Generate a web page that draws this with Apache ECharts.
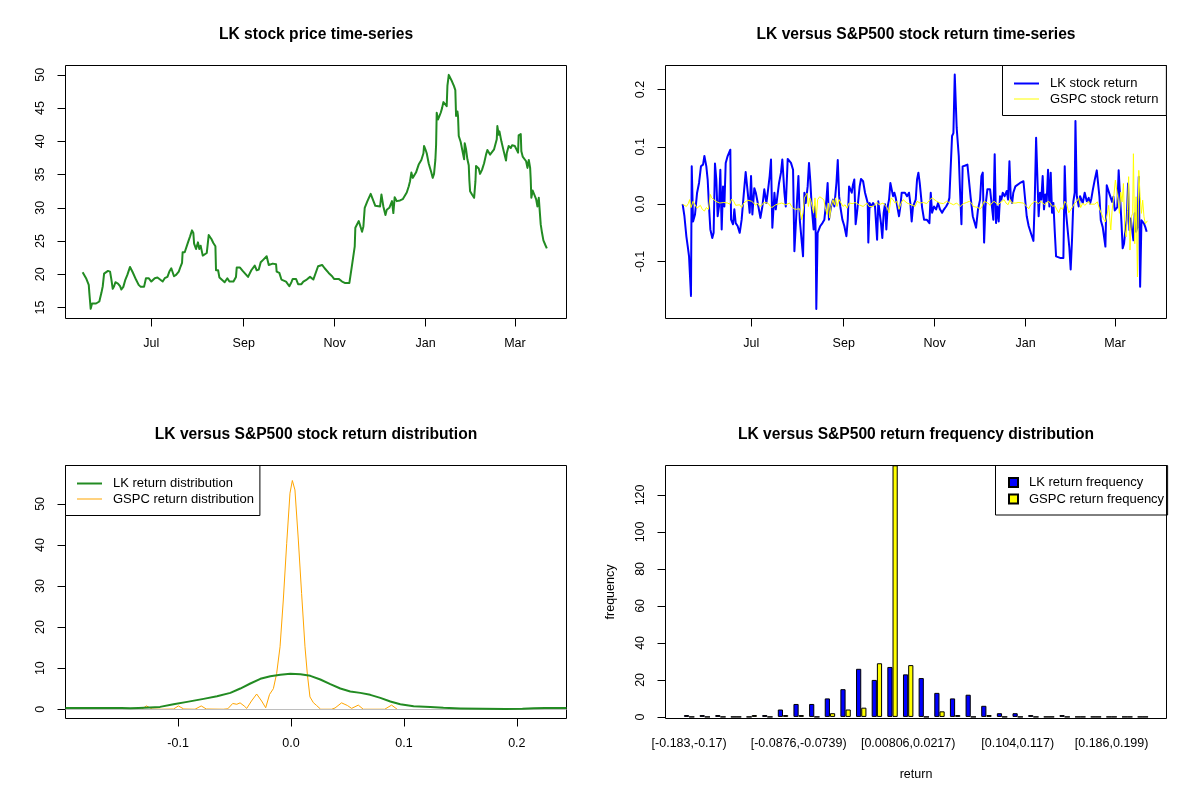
<!DOCTYPE html>
<html>
<head>
<meta charset="utf-8">
<title>LK versus S&amp;P500</title>
<script src="https://cdn.jsdelivr.net/npm/echarts@6/dist/echarts.min.js"></script>
<style>
  html, body { margin: 0; padding: 0; background: #fff; }
  #chart { width: 1200px; height: 800px; }
</style>
</head>
<body>
<div id="chart"></div>
<script>
// x positions of the time-series are calendar days counted from the listing day, 17 May 2019
const monthTicks = ['2019-07-01', '2019-09-01', '2019-11-01', '2020-01-01', '2020-03-01'];
const monthLabels = ['Jul', 'Sep', 'Nov', 'Jan', 'Mar'];

// LK closing price
const priceDay = [-1.1, 1.2, 3.0, 3.4, 4.3, 5.2, 6.1, 7.9, 10.1, 11.0, 11.5, 12.4, 13.3, 14.6, 15.9, 17.3, 18.2, 19.1, 20.0, 20.9,
  22.6, 24.0, 24.9, 26.2, 27.1, 27.6, 28.9, 30.7, 32.5, 34.7, 36.5, 37.9, 40.1, 41.0, 41.4, 43.2, 45.0, 45.9, 47.3, 49.1,
  50.4, 52.6, 54.0, 55.8, 57.1, 58.4, 59.3, 60.2, 61.6, 63.4, 64.7, 65.6, 66.0, 67.4, 68.3, 69.6, 71.0, 72.3, 73.2, 73.7,
  75.0, 76.3, 77.2, 78.1, 79.5, 80.8, 82.2, 83.5, 85.3, 86.6, 88.0, 88.4, 89.8, 90.7, 92.0, 94.2, 96.0, 97.4, 100.1, 101.8,
  102.3, 104.5, 106.3, 109.9, 112.1, 114.4, 115.7, 117.1, 118.4, 120.2, 122.4, 123.3, 123.8, 125.1, 126.5, 128.7, 129.1, 130.9, 132.3, 133.2,
  135.4, 136.7, 137.6, 139.0, 139.9, 142.1, 143.0, 143.5, 145.7, 147.0, 149.3, 151.5, 153.7, 156.9, 159.6, 161.3, 164.0, 166.3, 167.6, 170.7,
  173.0, 174.8, 177.9, 179.2, 179.7, 181.0, 181.5, 181.9, 184.2, 185.5, 186.4, 187.3, 188.2, 190.0, 192.2, 193.1, 195.3, 198.5, 199.4, 200.7,
  202.1, 203.0, 204.7, 206.5, 207.4, 208.3, 209.7, 211.9, 213.7, 216.4, 217.7, 218.6, 219.5, 220.4, 222.6, 224.4, 226.2, 227.6, 228.0, 228.9,
  229.8, 231.1, 232.0, 232.9, 233.8, 234.7, 235.6, 236.1, 236.5, 237.4, 238.3, 239.2, 240.1, 241.0, 242.3, 243.2, 243.7, 244.6, 245.5, 246.8,
  248.1, 249.0, 249.5, 250.4, 250.8, 251.3, 252.6, 254.0, 254.9, 255.3, 256.2, 257.1, 258.0, 258.4, 258.9, 260.2, 261.6, 262.5, 262.9, 263.8,
  264.7, 265.6, 266.9, 268.3, 269.6, 270.5, 272.3, 273.2, 275.0, 276.8, 277.2, 278.1, 278.6, 279.9, 281.7, 283.0, 283.5, 284.8, 286.2, 287.1,
  288.9, 289.8, 291.1, 291.5, 292.9, 293.3, 294.2, 295.1, 296.5, 297.4, 298.3, 299.2, 299.6, 300.0, 300.9, 301.8, 303.2, 304.1, 305.0, 305.9,
  306.3, 307.2, 308.1, 309.4, 310.4];
const priceValue = [20.3, 19.4, 18.4, 17.2, 14.8, 15.6, 15.3, 15.6, 15.9, 16.2, 17.2, 18.2, 20.1, 20.2, 20.5, 20.4, 19.2, 17.8, 18.2, 18.8,
  18.6, 18.2, 17.7, 18.1, 18.2, 19.2, 19.9, 21.1, 20.3, 19.2, 18.4, 18.1, 18.1, 18.4, 19.4, 19.4, 18.9, 19.2, 19.4, 19.5,
  19.2, 18.9, 19.4, 19.6, 20.4, 20.9, 20.3, 19.7, 19.9, 20.4, 21.2, 21.7, 23.3, 23.3, 23.1, 24.8, 25.7, 26.6, 26.2, 24.6,
  23.8, 24.8, 23.8, 24.3, 22.8, 22.8, 23.2, 25.9, 25.3, 24.7, 24.2, 20.6, 20.6, 19.5, 19.2, 18.8, 19.4, 18.9, 18.9, 19.6,
  21.0, 21.0, 20.5, 19.6, 20.6, 21.3, 20.6, 20.7, 21.8, 22.2, 22.7, 22.7, 21.4, 21.4, 21.6, 21.5, 20.4, 20.2, 19.2, 18.9,
  18.9, 18.8, 18.2, 18.8, 19.3, 19.3, 19.2, 18.5, 18.5, 18.9, 19.2, 19.6, 19.2, 21.2, 21.4, 20.9, 20.2, 19.7, 19.3, 19.3,
  18.9, 18.7, 18.7, 18.9, 21.4, 21.6, 24.2, 27.0, 28.0, 27.7, 26.4, 27.2, 30.0, 31.0, 32.1, 32.0, 30.3, 30.2, 32.0, 30.2,
  28.9, 29.7, 30.0, 31.0, 29.2, 31.6, 31.0, 31.1, 31.3, 32.3, 33.2, 34.0, 35.3, 34.5, 35.3, 36.5, 37.2, 38.2, 39.3, 38.8,
  38.2, 36.7, 36.0, 35.3, 34.5, 35.1, 37.2, 39.5, 44.3, 43.3, 43.8, 44.3, 45.0, 45.9, 46.0, 45.3, 48.4, 50.0, 49.8, 49.0,
  48.3, 47.7, 43.8, 44.5, 43.8, 40.8, 39.9, 38.3, 37.3, 39.7, 38.8, 37.3, 36.4, 34.2, 32.5, 32.0, 31.5, 34.0, 36.3, 36.3,
  35.9, 35.1, 35.7, 36.7, 38.0, 38.7, 38.0, 38.0, 38.8, 40.3, 42.3, 41.0, 41.5, 40.0, 38.3, 37.1, 38.2, 39.3, 39.0, 39.4,
  39.3, 39.0, 38.3, 40.9, 41.1, 38.5, 37.7, 37.6, 37.0, 36.0, 37.2, 36.0, 34.2, 31.5, 32.6, 32.5, 31.3, 30.2, 31.5, 31.6,
  27.5, 26.2, 25.1, 24.4, 23.9];

// LK daily return
const lkRetDay = [-1.1, 0.1, 1.4, 2.3, 3.2, 4.5, 5.0, 5.9, 7.2, 8.6, 9.9, 11.2, 12.6, 13.5, 14.8, 15.7, 16.6, 17.5, 18.8, 19.7,
  20.6, 21.5, 22.4, 23.3, 24.2, 25.1, 26.0, 26.9, 27.8, 29.1, 30.9, 31.4, 32.7, 33.6, 34.5, 35.8, 37.2, 38.5, 39.9, 41.2,
  42.6, 43.9, 44.8, 45.7, 47.0, 48.0, 49.3, 51.1, 52.4, 53.7, 55.1, 56.0, 57.3, 58.2, 59.1, 60.5, 61.4, 62.2, 63.6, 64.9,
  65.8, 67.2, 68.1, 69.4, 70.3, 71.6, 73.0, 73.9, 74.8, 75.7, 76.6, 77.5, 78.8, 79.7, 80.6, 81.5, 82.8, 83.7, 84.6, 85.5,
  86.8, 87.7, 88.2, 88.6, 89.5, 90.4, 91.3, 92.7, 94.0, 95.4, 96.2, 97.1, 98.5, 99.8, 100.7, 102.1, 103.0, 103.9, 104.7, 106.1,
  107.4, 108.8, 109.7, 110.6, 111.5, 112.4, 113.2, 114.1, 115.0, 115.9, 116.8, 117.7, 118.6, 120.0, 121.3, 122.2, 123.1, 123.5, 124.4, 125.3,
  126.7, 128.0, 129.4, 130.2, 131.1, 132.0, 132.9, 133.8, 134.7, 135.6, 136.5, 137.4, 138.3, 139.2, 140.1, 141.0, 141.9, 143.2, 144.1, 145.0,
  145.9, 146.8, 148.1, 149.5, 150.8, 151.7, 152.6, 153.5, 154.4, 155.3, 156.2, 157.1, 158.0, 159.6, 160.9, 162.7, 164.5, 165.4, 166.3, 167.6,
  169.0, 170.3, 171.6, 173.0, 174.3, 175.7, 177.0, 177.9, 179.2, 179.7, 180.6, 181.5, 182.4, 182.8, 184.2, 185.1, 186.0, 186.8, 188.2, 190.0,
  191.3, 192.2, 193.6, 194.9, 195.8, 197.1, 198.5, 199.4, 200.3, 201.2, 202.1, 203.4, 205.2, 206.5, 207.4, 208.3, 209.2, 210.1, 211.0, 211.9,
  212.8, 213.7, 215.0, 216.4, 217.3, 218.2, 219.1, 220.0, 220.8, 222.2, 223.5, 225.3, 227.6, 228.9, 229.8, 231.1, 232.9, 234.3, 235.2, 236.1,
  237.0, 237.8, 238.7, 239.6, 240.5, 241.4, 242.3, 243.2, 244.1, 245.0, 245.9, 246.8, 247.7, 248.6, 249.5, 250.8, 252.6, 254.4, 255.3, 256.2,
  257.5, 258.4, 259.3, 260.2, 261.1, 262.0, 262.5, 263.4, 264.7, 265.6, 266.5, 267.4, 268.7, 270.1, 271.4, 272.3, 273.2, 274.1, 275.4, 276.8,
  277.7, 278.6, 279.5, 280.8, 281.7, 282.6, 283.5, 284.4, 285.3, 286.2, 287.1, 288.0, 288.9, 289.7, 290.6, 291.5, 292.4, 293.3, 294.2, 295.1,
  296.0, 296.9, 297.8, 298.7, 299.6, 300.5, 301.4, 302.3, 303.2, 304.1, 305.0, 305.9, 306.8, 307.6, 308.5, 309.4, 310.3];
const lkRet = [0, -0.021, -0.056, -0.073, -0.091, -0.16, 0.066, -0.03, -0.018, 0.02, 0.037, 0.066, 0.069, 0.084, 0.066, 0.043, -0.004, -0.044, -0.059, -0.05,
  0.071, 0.043, -0.021, -0.004, 0.06, -0.044, 0.031, -0.004, 0.072, 0.084, 0.095, -0.027, -0.035, -0.009, -0.033, -0.038, -0.05, -0.027, 0.017, 0.056,
  0.02, -0.015, 0.049, -0.018, 0.028, 0.02, 0.002, -0.024, -0.004, 0.026, 0.002, 0.02, 0.049, 0.078, -0.041, 0.02, -0.009, 0.008, 0.037, 0.055,
  0.078, 0.02, -0.004, 0.079, 0.078, 0.072, 0.06, -0.082, -0.038, 0.008, 0.049, -0.027, -0.024, -0.091, 0.02, 0.002, 0.031, 0.072, 0.04, -0.004,
  -0.044, -0.004, -0.053, -0.183, -0.05, -0.05, -0.038, -0.033, -0.027, 0.008, 0.037, -0.027, -0.004, 0.008, -0.004, 0.037, 0.077, 0.014, -0.004, -0.027,
  -0.038, -0.056, -0.027, 0.031, 0.028, 0.02, 0.034, 0.043, -0.035, -0.015, 0.008, 0.031, 0.044, 0.04, 0.02, 0.011, 0.002, -0.067, 0.002, -0.004,
  0.002, -0.004, -0.062, 0.005, -0.015, -0.033, -0.059, -0.015, 0, -0.044, -0.004, 0.008, 0.037, 0.034, 0.014, 0.02, 0.011, 0.008, -0.021, -0.004,
  0.02, 0.023, 0.02, 0.014, 0.02, 0.002, -0.03, -0.004, 0.002, 0.008, 0.043, 0.055, 0.037, -0.006, -0.027, -0.027, -0.033, 0.02, -0.015, -0.004,
  -0.009, 0.002, -0.009, -0.015, -0.009, -0.004, 0.002, 0.011, 0.008, 0.119, 0.124, 0.226, 0.223, 0.133, 0.084, 0.02, -0.035, 0.066, 0.067, 0.069,
  0.067, 0.011, -0.021, -0.033, -0.041, -0.009, 0.008, 0.049, 0.055, -0.067, -0.004, 0.026, 0.026, 0.023, -0.027, 0.087, -0.033, -0.004, -0.03, 0.014,
  0.008, 0.02, 0.014, 0.023, 0.008, 0.075, 0.011, 0.002, 0.02, 0.031, 0.034, 0.037, 0.04, 0.038, -0.021, -0.038, -0.053, -0.064, 0.008, 0.116,
  0.113, -0.021, 0.02, 0.008, 0.049, -0.009, 0.017, 0.005, 0.06, -0.004, 0.055, -0.015, 0.002, -0.047, -0.091, -0.09, -0.094, -0.094, 0.066, -0.015,
  -0.012, -0.076, -0.114, -0.062, 0.005, 0.02, 0.145, 0.014, -0.004, 0.014, 0.008, 0.002, 0.02, 0.005, 0.011, 0.001, 0.01, 0.024, 0.042, 0.059,
  0.056, 0.013, -0.028, -0.04, -0.057, -0.074, 0.033, 0.03, 0.018, 0.016, 0.004, 0.013, -0.011, -0.013, -0.005, 0.059, 0.056, -0.028, -0.077, -0.069,
  -0.045, -0.028, 0.036, -0.045, -0.025, -0.045, -0.063, -0.016, -0.048, -0.04, 0.048, -0.144, -0.028, -0.025, -0.034, -0.04, -0.048];

// GSPC (S&P500) daily return
const spRetDay = [-1.1, 0.1, 1.4, 2.7, 3.6, 4.5, 5.9, 7.2, 8.6, 9.5, 10.8, 12.1, 13.5, 14.8, 16.2, 17.5, 18.4, 19.7, 21.1, 22.4,
  23.8, 25.1, 26.5, 27.8, 29.1, 30.5, 31.8, 33.2, 34.5, 35.8, 37.2, 38.5, 39.9, 41.2, 42.6, 43.9, 45.2, 46.6, 48.0, 49.3,
  50.6, 52.0, 53.3, 54.6, 56.0, 57.3, 58.7, 60.0, 61.4, 62.7, 64.0, 65.4, 66.7, 68.1, 69.4, 70.7, 72.1, 73.4, 74.8, 76.1,
  77.4, 78.8, 79.7, 80.6, 81.5, 82.4, 83.3, 84.2, 85.1, 86.0, 86.8, 87.7, 88.6, 89.5, 90.9, 92.2, 93.6, 94.9, 95.8, 96.7,
  97.6, 98.5, 99.8, 100.7, 101.6, 102.5, 103.9, 105.2, 106.5, 107.9, 109.2, 110.6, 111.9, 113.2, 114.6, 115.9, 117.3, 118.6, 120.0, 121.3,
  122.6, 124.0, 125.3, 126.7, 128.0, 129.4, 130.7, 132.0, 133.4, 134.7, 136.1, 137.4, 138.7, 140.1, 141.4, 142.8, 144.1, 145.5, 146.8, 148.1,
  149.5, 150.8, 152.2, 153.5, 154.9, 156.2, 157.5, 158.2, 160.4, 162.7, 164.9, 166.3, 167.6, 169.4, 171.6, 173.9, 176.1, 178.3, 180.6, 182.8,
  185.1, 187.3, 189.5, 191.3, 192.7, 194.0, 195.3, 197.1, 198.5, 199.8, 201.2, 202.5, 203.8, 205.2, 206.5, 207.9, 209.2, 210.6, 211.9, 213.2,
  214.6, 215.9, 217.3, 218.6, 220.0, 221.3, 222.6, 224.0, 225.3, 227.6, 228.9, 229.8, 231.1, 232.5, 233.8, 235.2, 236.5, 237.8, 239.2, 240.5,
  241.9, 243.2, 244.6, 245.9, 247.2, 248.6, 249.9, 251.3, 252.6, 254.0, 255.3, 256.6, 258.0, 259.3, 260.7, 262.0, 263.4, 264.7, 266.0, 267.4,
  268.7, 270.1, 271.4, 272.3, 273.6, 275.4, 277.2, 278.6, 279.9, 281.2, 282.6, 283.9, 284.8, 286.2, 287.1, 288.4, 289.3, 290.2, 291.1, 292.0,
  292.9, 293.8, 294.7, 295.6, 296.5, 297.4, 298.2, 299.1, 300.0, 300.9, 301.4, 302.3, 303.2, 304.1, 305.0, 305.9, 306.8, 307.6, 308.5, 309.4,
  310.8];
const spRet = [0, -0.003, -0.004, 0.001, 0.008, -0.006, 0.005, 0.002, -0.007, -0.004, -0.002, -0.009, -0.012, -0.006, -0.009, 0.017, 0.011, 0.008, 0.005, 0.008,
  0.002, 0.001, 0.003, 0.001, 0.002, 0, 0.009, 0.005, -0.002, -0.004, -0.001, -0.006, 0.002, 0.005, 0.007, 0.005, 0.005, 0.002, -0.002, 0.002,
  -0.004, -0.002, 0.003, 0.005, 0.002, -0.001, -0.006, -0.004, -0.001, -0.004, 0.001, 0.002, 0.005, -0.001, 0.001, 0.002, -0.004, -0.008, -0.009, -0.009,
  -0.008, -0.027, -0.015, 0.011, 0.008, 0.019, -0.004, 0.011, 0.005, -0.006, -0.015, 0.011, -0.024, 0.008, 0.013, 0.011, 0.008, -0.009, -0.018, 0.002,
  -0.024, -0.004, 0.008, -0.001, 0.011, -0.004, 0.008, 0.002, -0.004, -0.001, -0.007, 0.002, 0.005, 0.001, 0.003, 0.002, -0.001, -0.002, -0.004, -0.001,
  0.002, -0.004, -0.001, -0.004, -0.002, 0.003, -0.001, -0.004, 0.002, -0.002, -0.006, -0.015, 0.011, 0.008, 0.002, 0.005, -0.009, 0.002, 0.008, 0.009,
  0.002, 0.005, -0.001, 0.002, -0.004, 0.005, 0.002, 0.002, 0.003, 0.001, 0.008, 0.011, 0.009, 0.005, 0.002, 0.001, 0.005, 0.002, -0.001, 0.002,
  -0.004, 0.001, 0.003, 0.005, 0.002, -0.004, -0.001, -0.006, -0.009, -0.004, 0.005, 0.008, 0.002, -0.002, 0.002, 0.005, 0.003, -0.001, 0.002, 0.005,
  0.008, 0.002, -0.001, 0.008, 0.002, 0.001, 0.002, 0.003, 0.001, 0.002, 0.005, -0.004, -0.008, -0.001, 0.002, 0.005, 0.002, 0.001, 0.005, 0.002,
  -0.001, 0.003, 0.005, 0.002, -0.004, -0.002, -0.009, -0.015, -0.006, -0.009, 0.005, 0.001, -0.015, -0.018, -0.004, 0.002, 0.005, 0.011, -0.006, 0.002,
  -0.002, 0.001, 0.005, 0, 0.002, 0, 0.004, -0.008, -0.016, -0.025, -0.031, -0.016, -0.002, -0.045, -0.011, 0.018, 0.042, 0.045, 0.007, -0.016,
  0.021, 0.004, 0.036, -0.045, -0.057, -0.011, 0.048, -0.08, -0.022, -0.016, 0.088, -0.069, 0.013, -0.127, 0.059, 0.013, -0.016, 0.007, -0.022, -0.034,
  -0.029];

// kernel density of the returns
const lkDensX = [-0.1997, -0.17, -0.15, -0.1425, -0.135, -0.125, -0.116, -0.104, -0.092, -0.0774, -0.0655, -0.0537, -0.0449, -0.036, -0.0271, -0.0183, -0.0094, -0.0006, 0.0083, 0.0171,
  0.026, 0.0348, 0.0437, 0.0525, 0.0614, 0.0702, 0.0791, 0.088, 0.0968, 0.1086, 0.1233, 0.135, 0.15, 0.17, 0.19, 0.205, 0.215, 0.225, 0.244];
const lkDensY = [0.3, 0.3, 0.28, 0.25, 0.3, 0.42, 0.57, 1.22, 1.79, 2.52, 3.17, 3.98, 5.04, 6.26, 7.4, 8.05, 8.37, 8.62, 8.54, 8.13,
  7.24, 6.1, 5.04, 4.31, 3.98, 3.5, 2.76, 1.87, 1.22, 0.73, 0.57, 0.35, 0.2, 0.1, 0.08, 0.1, 0.25, 0.3, 0.3];
const spDensX = [-0.135, -0.132, -0.128, -0.123, -0.115, -0.104, -0.0997, -0.095, -0.085, -0.0835, -0.0795, -0.075, -0.06, -0.056, -0.0516, -0.048, -0.0451, -0.0415, -0.0392, -0.035,
  -0.0304, -0.026, -0.0224, -0.019, -0.0156, -0.0127, -0.0097, -0.0068, -0.0038, -0.0009, 0.0012, 0.0035, 0.0065, 0.0094, 0.0124, 0.0145, 0.0168, 0.0198, 0.0227, 0.0263,
  0.036, 0.039, 0.0448, 0.05, 0.0537, 0.0596, 0.064, 0.083, 0.0891, 0.094];
const spDensY = [0, 0.05, 0.8, 0.05, 0, 0.05, 0.8, 0.05, 0, 0.05, 0.8, 0.05, 0, 0.1, 1.4, 1.2, 1.55, 0.8, 0.2, 2.0,
  3.7, 2.0, 0.35, 3.6, 5.0, 8.7, 15.2, 26.6, 40.4, 52.6, 55.7, 53.4, 41.2, 28.2, 15.2, 8.5, 3.0, 1.6, 0.9, 0,
  0, 0.3, 1.55, 0.9, 0.2, 1.0, 0, 0, 1.0, 0];

// return frequency table (30 equal-width bins)
const binLabels = ['[-0.183,-0.17)', '[-0.17,-0.156)', '[-0.156,-0.142)', '[-0.142,-0.129)', '[-0.129,-0.115)', '[-0.115,-0.101)',
  '[-0.101,-0.0876)', '[-0.0876,-0.0739)', '[-0.0739,-0.0603)', '[-0.0603,-0.0466)', '[-0.0466,-0.0329)', '[-0.0329,-0.0193)',
  '[-0.0193,-0.0056)', '[-0.0056,0.00806)', '[0.00806,0.0217)', '[0.0217,0.0354)', '[0.0354,0.0491)', '[0.0491,0.0627)',
  '[0.0627,0.0764)', '[0.0764,0.0901)', '[0.0901,0.104)', '[0.104,0.117)', '[0.117,0.131)', '[0.131,0.145)',
  '[0.145,0.158)', '[0.158,0.172)', '[0.172,0.186)', '[0.186,0.199)', '[0.199,0.213)', '[0.213,0.227]'];
const lkFreq = [1, 1, 1, 0, 0, 1, 4, 7, 7, 10, 15, 26, 20, 27, 23, 21, 13, 10, 12, 6, 2, 2, 1, 0, 1, 0, 0, 0, 0, 0];
const spFreq = [0, 0, 0, 0, 1, 0, 1, 1, 0, 2, 4, 5, 29, 136, 28, 0, 3, 1, 0, 1, 0, 0, 0, 0, 0, 0, 0, 0, 0, 0];
const binLabelShown = [0, 7, 14, 21, 27];

const priceTicks = [15, 20, 25, 30, 35, 40, 45, 50];
const returnTicks = [-0.1, 0, 0.1, 0.2];
const densityYTicks = [0, 10, 20, 30, 40, 50];
const freqTicks = [0, 20, 40, 60, 80, 100, 120];

const FONT = "'Liberation Sans', Arial, sans-serif";
const listing = Date.UTC(2019, 4, 17);
const dayOf = s => (Date.parse(s) - listing) / 864e5;
const monthTickDay = monthTicks.map(dayOf);
const pairs = (xs, ys) => xs.map((x, i) => [x, ys[i]]);
const monthName = v => {
  const i = monthTickDay.findIndex(d => Math.abs(d - v) < 0.5);
  return i >= 0 ? monthLabels[i] : '';
};
const oneDecimal = v => v.toFixed(1);

// legend keys: a 2px bar for the thick lines, a 1px stripe at the top of a 2px box for the thin ones
const thickKey = 'rect';
const thinKey = 'path://M0,0L25,0L25,1L0,1Z M0,1.98L25,1.98L25,2L0,2Z';

const panels = [
  { left: 65.5, top: 65.5 },
  { left: 665.5, top: 65.5 },
  { left: 65.5, top: 465.5 },
  { left: 665.5, top: 465.5 }
];
const W = 501, H = 253;

function tickAxis(gridIndex, min, max, ticks, formatter, vertical) {
  return {
    type: 'value',
    gridIndex: gridIndex,
    min: min,
    max: max,
    axisLine: { show: false, onZero: false },
    splitLine: { show: false },
    axisTick: { show: true, length: 8, lineStyle: { color: '#000', width: 1 }, customValues: ticks },
    axisLabel: {
      customValues: ticks,
      formatter: formatter,
      color: '#000',
      fontSize: 12.5,
      fontFamily: FONT,
      margin: 18.5,
      rotate: vertical ? 90 : 0
    }
  };
}

function panelTitle(text, i) {
  return {
    text: text,
    left: panels[i].left + W / 2,
    top: panels[i].top - 39,
    textAlign: 'center',
    padding: 0,
    textStyle: { fontSize: 15.6, fontWeight: 'bold', color: '#000', fontFamily: FONT }
  };
}

const legendText = { fontSize: 13, fontFamily: FONT, color: '#000', lineHeight: 12, padding: [0, 0, 0, 6] };

function boxLegend(items, left, top, pad, opts) {
  return Object.assign({
    orient: 'vertical',
    left: left,
    top: top,
    data: items,
    selectedMode: false,
    itemWidth: 25,
    itemHeight: 2,
    itemGap: 3,
    padding: pad,
    borderColor: '#000',
    borderWidth: 1,
    borderRadius: 0,
    backgroundColor: '#fff',
    textStyle: legendText
  }, opts || {});
}

// histogram bars: each bin is 3 bar widths, so the bar band is narrower than the box
const barGrid = { left: 681.3, top: 465.5, width: 469.4, height: H };

const option = {
  animation: false,
  backgroundColor: '#fff',
  title: [
    panelTitle('LK stock price time-series', 0),
    panelTitle('LK versus S&P500 stock return time-series', 1),
    panelTitle('LK versus S&P500 stock return distribution', 2),
    panelTitle('LK versus S&P500 return frequency distribution', 3)
  ],
  legend: [
    boxLegend([{ name: 'LK stock return', icon: thickKey }, { name: 'GSPC stock return', icon: thinKey }],
      1002.5, 65.5, [11.5, 8, 9.5, 11.5]),
    boxLegend([{ name: 'LK return distribution', icon: thickKey }, { name: 'GSPC return distribution', icon: thinKey }],
      65.5, 465.5, [11.5, 6, 9.5, 11.5]),
    boxLegend(['LK return frequency', 'GSPC return frequency'], 995.5, 465.5, [10.5, 3.5, 9.5, 12.5],
      { itemWidth: 9, itemHeight: 9, itemGap: 3.5, icon: 'rect' })
  ],
  grid: [
    { left: panels[0].left, top: panels[0].top, width: W, height: H, show: true, borderColor: '#000', borderWidth: 1, backgroundColor: 'transparent' },
    { left: panels[1].left, top: panels[1].top, width: W, height: H, show: true, borderColor: '#000', borderWidth: 1, backgroundColor: 'transparent' },
    { left: panels[2].left, top: panels[2].top, width: W, height: H, show: true, borderColor: '#000', borderWidth: 1, backgroundColor: 'transparent' },
    Object.assign({ show: false }, barGrid)
  ],
  graphic: [
    { type: 'rect', silent: true, z: 50, shape: { x: panels[3].left, y: panels[3].top, width: W, height: H }, style: { fill: 'none', stroke: '#000', lineWidth: 1 } }
  ],
  xAxis: [
    tickAxis(0, -12.6, 323.6, monthTickDay, monthName, false),
    tickAxis(1, -12.6, 323.6, monthTickDay, monthName, false),
    tickAxis(2, -0.1997, 0.244, returnTicks, oneDecimal, false),
    {
      type: 'category',
      gridIndex: 3,
      data: binLabels,
      axisLine: { show: false, onZero: false },
      axisTick: { show: false },
      splitLine: { show: false },
      axisLabel: {
        interval: (index) => binLabelShown.indexOf(index) >= 0,
        color: '#000', fontSize: 12.5, fontFamily: FONT, margin: 18.5
      },
      name: 'return',
      nameLocation: 'middle',
      nameGap: 50,
      nameTextStyle: { color: '#000', fontSize: 12.5, fontFamily: FONT }
    }
  ],
  yAxis: [
    tickAxis(0, 13.34, 51.41, priceTicks, v => String(v), true),
    tickAxis(1, -0.1994, 0.2419, returnTicks, oneDecimal, true),
    tickAxis(2, -2.26, 59.35, densityYTicks, v => String(v), true),
    Object.assign(tickAxis(3, -0.86, 135.9, freqTicks, v => String(v), true), {
      offset: barGrid.left - panels[3].left,
      name: 'frequency',
      nameLocation: 'middle',
      nameGap: 48,
      nameTextStyle: { color: '#000', fontSize: 12.5, fontFamily: FONT }
    })
  ],
  series: [
    {
      name: 'LK price', type: 'line', xAxisIndex: 0, yAxisIndex: 0, symbol: 'none',
      data: pairs(priceDay, priceValue),
      lineStyle: { color: '#228B22', width: 2, join: 'round' }, itemStyle: { color: '#228B22' }
    },
    {
      name: 'LK stock return', type: 'line', xAxisIndex: 1, yAxisIndex: 1, symbol: 'none',
      data: pairs(lkRetDay, lkRet),
      lineStyle: { color: '#0000FF', width: 2, join: 'round' }, itemStyle: { color: '#0000FF' }
    },
    {
      name: 'GSPC stock return', type: 'line', xAxisIndex: 1, yAxisIndex: 1, symbol: 'none',
      data: pairs(spRetDay, spRet),
      lineStyle: { color: '#FFFF00', width: 1, join: 'round' }, itemStyle: { color: '#FFFF00' }
    },
    {
      name: 'GSPC return distribution', type: 'line', xAxisIndex: 2, yAxisIndex: 2, symbol: 'none',
      data: pairs(spDensX, spDensY),
      lineStyle: { color: '#FFA500', width: 1, join: 'round' }, itemStyle: { color: '#FFA500' },
      markLine: {
        silent: true, symbol: ['none', 'none'], label: { show: false },
        lineStyle: { color: '#BEBEBE', width: 1, type: 'solid' },
        data: [{ yAxis: 0 }]
      }
    },
    {
      name: 'LK return distribution', type: 'line', xAxisIndex: 2, yAxisIndex: 2, symbol: 'none', z: 10,
      data: pairs(lkDensX, lkDensY),
      lineStyle: { color: '#228B22', width: 2, join: 'round' }, itemStyle: { color: '#228B22' }
    },
    {
      name: 'LK return frequency', type: 'bar', xAxisIndex: 3, yAxisIndex: 3,
      data: lkFreq, barWidth: 5.2, barGap: '0%',
      itemStyle: { color: '#0000FF', borderColor: '#000', borderWidth: 1 }
    },
    {
      name: 'GSPC return frequency', type: 'bar', xAxisIndex: 3, yAxisIndex: 3,
      data: spFreq, barWidth: 5.2, barGap: '0%',
      itemStyle: { color: '#FFFF00', borderColor: '#000', borderWidth: 1 }
    }
  ]
};

const chart = echarts.init(document.getElementById('chart'), null, { renderer: 'canvas' });
chart.setOption(option);
window.addEventListener('resize', () => chart.resize());
</script>
</body>
</html>
